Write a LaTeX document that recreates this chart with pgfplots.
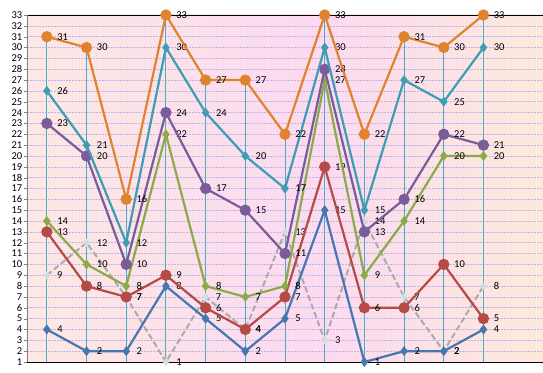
\documentclass[border=0pt]{standalone}
\usepackage{pgfplots}
\pgfplotsset{compat=1.18}
\usepackage{fontspec}
\setmainfont{Carlito}
\definecolor{cOr}{HTML}{E0832F}
\definecolor{cTe}{HTML}{3E9DB3}
\definecolor{cPu}{HTML}{7A5C9A}
\definecolor{cGr}{HTML}{8DAA4B}
\definecolor{cRe}{HTML}{B54A47}
\definecolor{cBl}{HTML}{4677B0}
\definecolor{cGy}{HTML}{ABABAB}
\definecolor{cDrop}{HTML}{4BACC6}
\definecolor{cGrid}{HTML}{B4B6EC}
\definecolor{bgL}{HTML}{FDE8E3}
\definecolor{bgM}{HTML}{FCDAF0}
\definecolor{bgR}{HTML}{FDE9DC}
\pgfdeclarehorizontalshading{bgshade}{100bp}{color(0bp)=(bgL); color(25bp)=(bgL); color(53bp)=(bgM); color(75bp)=(bgR); color(100bp)=(bgR)}
\pgfplotstableread{
x or te pu gr re bl gy
0 31 26 23 14 13 4 9
1 30 21 20 10 8 2 12
2 16 12 10 8 7 2 7
3 33 30 24 22 9 8 1
4 27 24 17 8 6 5 7
5 27 20 15 7 4 2 4
6 22 17 11 8 7 5 13
7 33 30 28 27 19 15 3
8 22 15 13 9 6 1 14
9 31 27 16 14 6 2 7
10 30 25 22 20 10 2 2
11 33 30 21 20 5 4 8
}\data
\begin{document}
\begin{tikzpicture}
\useasboundingbox (-27pt,-10pt) rectangle (516pt,362pt);
\begin{axis}[
  scale only axis, width=516pt, height=347pt,
  xmin=-0.5, xmax=12.5, ymin=1, ymax=33,
  axis x line*=box, axis y line*=left,
  x axis line style={black, line width=0.8pt},
  y axis line style={gray, line width=0.8pt},
  xtick=\empty,
  ytick={1,...,33},
  tick align=outside, major tick length=3pt,
  ytick style={gray},
  yticklabel style={font=\fontsize{10.5}{11}\selectfont, text=black, inner sep=1.5pt},
  /pgf/number format/assume math mode=true,
  ymajorgrids,
  major grid style={dash pattern=on 2pt off 1pt, color=cGrid, line width=0.6pt},
  axis background/.style={shading=bgshade},
  clip mode=individual,
  every node near coord/.append style={anchor=west, xshift=6pt, font=\fontsize{10.5}{11}\selectfont, text=black},
  axis on top=false,
]
\addplot[ycomb, cDrop, line width=0.9pt, no marks] table[x=x, y=or] {\data};
\addplot[cGy, line width=2pt, dash pattern=on 6pt off 3pt, mark=diamond*, mark size=2.5pt, mark options={solid, fill=cGy!60!cDrop!40, draw=cGy!60!cDrop!40}, nodes near coords] table[x=x, y=gy] {\data};
\addplot[cBl, line width=2.2pt, mark=diamond*, mark size=3.2pt, nodes near coords] table[x=x, y=bl] {\data};
\addplot[cRe, line width=2.2pt, mark=*, mark size=4.5pt, nodes near coords] table[x=x, y=re] {\data};
\addplot[cGr, line width=2.2pt, mark=diamond*, mark size=3.2pt, nodes near coords] table[x=x, y=gr] {\data};
\addplot[cPu, line width=2.2pt, mark=*, mark size=4.5pt, nodes near coords] table[x=x, y=pu] {\data};
\addplot[cTe, line width=2.2pt, mark=diamond*, mark size=3.2pt, nodes near coords] table[x=x, y=te] {\data};
\addplot[cOr, line width=2.2pt, mark=*, mark size=4.5pt, nodes near coords] table[x=x, y=or] {\data};
\end{axis}
\end{tikzpicture}
\end{document}
